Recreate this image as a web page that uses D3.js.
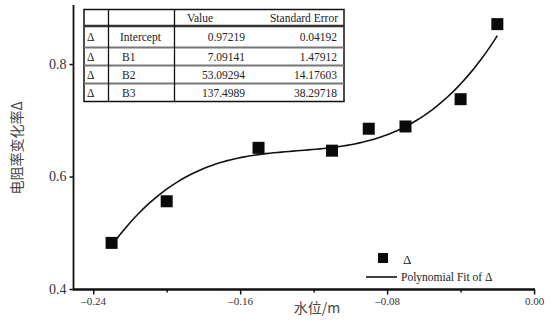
<!DOCTYPE html>
<html><head><meta charset="utf-8">
<script src="https://cdn.jsdelivr.net/npm/d3@7"></script>
<style>body{margin:0;background:#fff}svg{display:block}
.sf{font-family:"Liberation Serif","Times New Roman",Times,"DejaVu Serif","Noto Serif",serif}
</style>
</head><body><svg id="c" width="550" height="329"></svg>
<script>
const waterLevel = [-0.23, -0.20, -0.15, -0.11, -0.09, -0.07, -0.04, -0.02];
const resistChange = [0.482, 0.556, 0.651, 0.646, 0.685, 0.689, 0.7375, 0.871];
const coefNames = ["Intercept", "B1", "B2", "B3"];
const coefValues = [0.97219, 7.09141, 53.09294, 137.4989];
const coefValueText = ["0.97219", "7.09141", "53.09294", "137.4989"];
const coefErrText = ["0.04192", "1.47912", "14.17603", "38.29718"];
const xTicks = [-0.24, -0.16, -0.08, 0.00];
const xMinorTicks = [-0.20, -0.12, -0.04];
const yTicks = [0.4, 0.6, 0.8];

const svg = d3.select("#c");
const x = d3.scaleLinear().domain([-0.251, 0.0005]).range([73, 535]);
const y = d3.scaleLinear().domain([0.4, 0.905]).range([289, 5]);

// axes
const fmtX = d => d === 0 ? "0.00" : "\u2013" + Math.abs(d).toFixed(2);
const gx = svg.append("g").attr("transform", "translate(0,289.5)");
gx.call(d3.axisBottom(x).tickValues(xTicks).tickSize(5).tickFormat(fmtX));
gx.append("g").call(d3.axisBottom(x).tickValues(xMinorTicks).tickSize(3).tickFormat(""));
gx.selectAll(".domain").attr("d", `M${x.range()[0]},0H${x.range()[1]}`);
const gy = svg.append("g").attr("transform", "translate(73.5,0)");
gy.call(d3.axisLeft(y).tickValues(yTicks).tickSize(4).tickFormat(d3.format(".1f")));
gy.selectAll(".domain").attr("d", `M0,${y.range()[1]}V${y.range()[0]+0.5}`);
svg.selectAll(".domain").attr("stroke", "#111").attr("stroke-width", 1.8);
svg.selectAll(".tick line").attr("stroke", "#111").attr("stroke-width", 1.5);
gx.attr("font-family", null); gy.attr("font-family", null);
gx.selectAll(".tick text").attr("class", "sf").attr("font-size", 11).attr("fill", "#333").attr("dy", "0.7em");
gy.selectAll(".tick text").attr("class", "sf").attr("font-size", 14).attr("fill", "#333").attr("dy", "0.3em");

// axis titles
svg.append("text").attr("x", 317).attr("y", 313).attr("text-anchor", "middle")
  .style("font-family", "'Noto Sans CJK SC',sans-serif").attr("font-size", 14).attr("fill", "#444").text("水位/m");
svg.append("text").attr("transform", "translate(22,148) rotate(-90)").attr("text-anchor", "middle")
  .style("font-family", "'Noto Sans CJK SC',sans-serif").attr("font-size", 14).attr("fill", "#444").text("电阻率变化率Δ");

// fit curve from the table's coefficients
const xFit = d3.range(0, 101).map(i => d3.min(waterLevel) + (d3.max(waterLevel) - d3.min(waterLevel)) * i / 100);
const poly = v => coefValues.reduce((s, c, k) => s + c * Math.pow(v, k), 0);
svg.append("path").datum(xFit)
  .attr("d", d3.line().x(d => x(d)).y(d => y(poly(d))))
  .attr("fill", "none").attr("stroke", "#111").attr("stroke-width", 1.6);

// points
const sz = 12;
svg.selectAll("rect.pt").data(waterLevel).join("rect").attr("class", "pt")
  .attr("x", (d) => x(d) - sz / 2).attr("y", (d, i) => y(resistChange[i]) - sz / 2)
  .attr("width", sz).attr("height", sz).attr("fill", "#0a0a0a");

// table
const tb = svg.append("g");
const colX = [84, 108.5, 174.5, 344];
const rowY = [9.5, 26, 47.5, 65.5, 83.5, 101.5];
tb.append("rect").attr("x", colX[0]).attr("y", rowY[0]).attr("width", colX[3] - colX[0]).attr("height", rowY[5] - rowY[0])
  .attr("fill", "#fff").attr("stroke", "#111").attr("stroke-width", 1.5);
rowY.slice(1, 5).forEach((r, i) => {
  tb.append("line").attr("x1", colX[0]).attr("x2", colX[3]).attr("y1", r).attr("y2", r)
    .attr("stroke", i === 0 ? "#333" : "#777").attr("stroke-width", i === 0 ? 2.5 : 2.2);
});
colX.slice(1, 3).forEach(c => {
  tb.append("line").attr("x1", c).attr("x2", c).attr("y1", rowY[0]).attr("y2", rowY[5])
    .attr("stroke", "#111").attr("stroke-width", 1.3);
});
const tt = (xx, yy, s, anchor) => tb.append("text").attr("class", "sf").attr("x", xx).attr("y", yy).attr("text-anchor", anchor || "start")
  .attr("font-size", 11.5).attr("fill", "#222").text(s);
tt(200, 21.5, "Value", "middle");
tt(338, 21.5, "Standard Error", "end");
coefNames.forEach((n, i) => {
  const base = (rowY[i + 1] + rowY[i + 2]) / 2 + 4;
  tt(87, base, "Δ");
  tt(n === "Intercept" ? 120 : 122, base, n);
  tt(245, base, coefValueText[i], "end");
  tt(337, base, coefErrText[i], "end");
});

// legend
svg.append("rect").attr("x", 378).attr("y", 253).attr("width", 10).attr("height", 10).attr("fill", "#0a0a0a");
svg.append("text").attr("class", "sf").attr("x", 403).attr("y", 264).attr("font-size", 13).attr("fill", "#222").text("Δ");
svg.append("line").attr("x1", 366).attr("x2", 397).attr("y1", 277).attr("y2", 277).attr("stroke", "#111").attr("stroke-width", 1.6);
svg.append("text").attr("class", "sf").attr("x", 401).attr("y", 281).attr("font-size", 11.5).attr("fill", "#222").text("Polynomial Fit of  Δ");
</script></body></html>
